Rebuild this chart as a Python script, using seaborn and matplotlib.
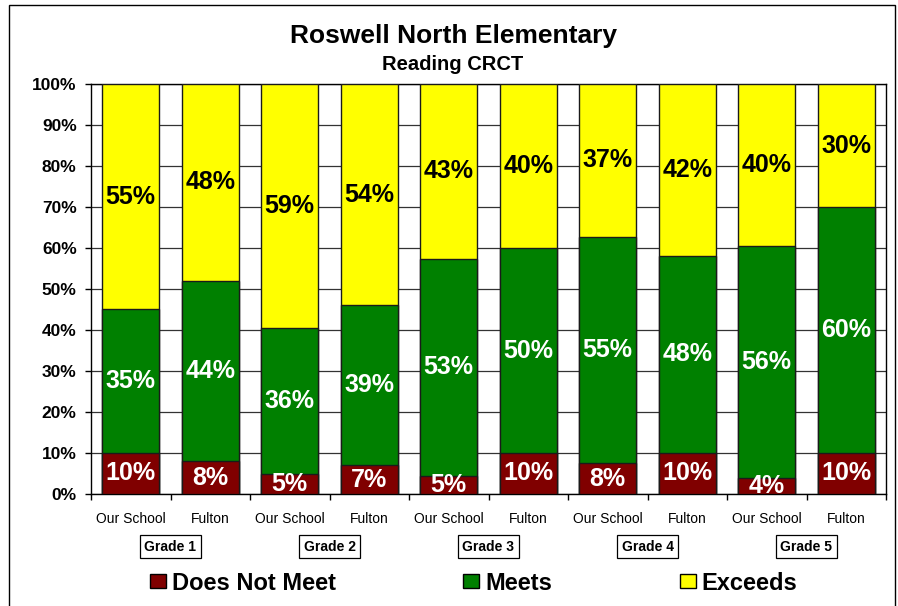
import numpy as np
import pandas as pd
import seaborn as sns
import matplotlib.pyplot as plt
from matplotlib.patches import Patch, Rectangle
from matplotlib.transforms import blended_transform_factory

# Datos (porcentaje de alumnos)
grades = ["Grade 1", "Grade 2", "Grade 3", "Grade 4", "Grade 5"]
schools = ["Our School", "Fulton"]
does_not_meet = [10, 8, 5, 7, 4.5, 10, 7.5, 10, 4, 10]
meets = [35.1, 44, 35.6, 39, 52.9, 50, 55.3, 48.1, 56.4, 60]
exceeds = [54.9, 48, 59.4, 54, 42.6, 40, 37.2, 41.9, 39.6, 30]

series_names = ["Does Not Meet", "Meets", "Exceeds"]
colores = ["#800000", "#008000", "#FFFF00"]

bars = pd.DataFrame({
    "pos": range(len(does_not_meet)),
    "school": schools * len(grades),
    "dnm": does_not_meet,
    "meets": meets,
    "exceeds": exceeds,
})
bars["top_meets"] = bars["dnm"] + bars["meets"]
bars["top_all"] = bars["top_meets"] + bars["exceeds"]

sns.set_theme(style="white")
plt.rcParams["font.family"] = ["Liberation Sans", "DejaVu Sans"]
plt.rcParams["text.color"] = "black"
plt.rcParams["xtick.color"] = "black"
plt.rcParams["ytick.color"] = "black"
plt.rcParams["axes.labelcolor"] = "black"

fig = plt.figure(figsize=(8.98, 6.06), dpi=100)
ax = fig.add_axes([91 / 898, 1 - 494 / 606, (886 - 91) / 898, (494 - 84) / 606])

# barras apiladas: se dibuja el total y encima los acumulados
for col, color in [("top_all", colores[2]), ("top_meets", colores[1]), ("dnm", colores[0])]:
    sns.barplot(data=bars, x="pos", y=col, color=color, saturation=1, width=0.72,
                edgecolor="#1a1a1a", linewidth=1, errorbar=None, ax=ax, zorder=3)


def pct(v):
    return f"{int(np.floor(v + 0.5))}%"


for i, row in bars.iterrows():
    ax.text(i, row["dnm"] / 2, pct(row["dnm"]), ha="center", va="center",
            color="white", fontsize=18, fontweight="bold", zorder=5)
    ax.text(i, row["dnm"] + row["meets"] / 2, pct(row["meets"]), ha="center", va="center",
            color="white", fontsize=18, fontweight="bold", zorder=5)
    ax.text(i, row["top_meets"] + row["exceeds"] / 2, pct(row["exceeds"]), ha="center",
            va="center", color="black", fontsize=18, fontweight="bold", zorder=5)

# ejes
ax.set_xlim(-0.5, len(bars) - 0.5)
ax.set_ylim(0, 100)
ax.set_xlabel("")
ax.set_ylabel("")
ax.set_yticks(range(0, 101, 10))
ax.set_yticklabels([f"{v}%" for v in range(0, 101, 10)], fontsize=12.5, fontweight="bold")
ax.tick_params(axis="y", direction="out", length=4.3, width=1, color="black", pad=6, left=True)
ax.set_xticks(range(len(bars)))
ax.set_xticklabels(bars["school"], fontsize=10)
ax.set_xticks(np.arange(-0.5, len(bars), 1), minor=True)
ax.tick_params(axis="x", which="major", length=0, pad=13)
ax.tick_params(axis="x", which="minor", direction="out", length=4, width=1,
               color="black", bottom=True)
ax.yaxis.grid(True, color="#333333", linewidth=0.9)
ax.set_axisbelow(True)
for s in ax.spines.values():
    s.set_color("black")
    s.set_linewidth(1)

# cajas de grado
trans = blended_transform_factory(ax.transData, ax.transAxes)
for g, name in enumerate(grades):
    ax.text(2 * g + 0.5, -0.129, name, transform=trans, ha="center", va="center",
            fontsize=10, fontweight="bold",
            bbox=dict(boxstyle="square,pad=0.33", fc="white", ec="black", lw=0.9))

# titulos
fig.text(453 / 898, 1 - 36 / 606, "Roswell North Elementary", ha="center", va="center",
         fontsize=19, fontweight="bold")
fig.text(453 / 898, 1 - 65 / 606, "Reading CRCT", ha="center", va="center",
         fontsize=14.5, fontweight="bold")

# leyenda
handles = [Patch(facecolor=c, edgecolor="black", linewidth=1) for c in colores]
fig.legend(handles, series_names, loc="center", bbox_to_anchor=(473.5 / 898, 1 - 583 / 606),
           ncol=3, frameon=False, prop=dict(size=17, weight="bold"),
           handlelength=0.68, handleheight=0.55, handletextpad=0.25, columnspacing=5.4)

# borde del grafico
fig.patches.append(Rectangle((9 / 898, -0.05), (895 - 9) / 898, 1.05 - 5 / 606,
                             transform=fig.transFigure, fill=False, ec="black", lw=1))

fig.savefig("out.png", dpi=100)
